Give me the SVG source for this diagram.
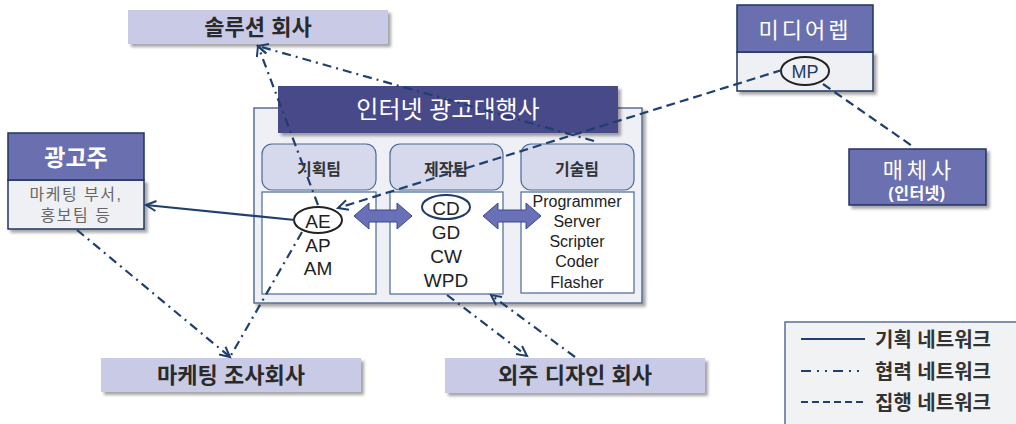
<svg xmlns="http://www.w3.org/2000/svg" width="1016" height="424" viewBox="0 0 1016 424">
<defs>
<filter id="sh" x="-10%" y="-10%" width="130%" height="140%">
<feDropShadow dx="3" dy="3" stdDeviation="1.5" flood-color="#000" flood-opacity="0.35"/>
</filter>
<marker id="arr" markerUnits="userSpaceOnUse" markerWidth="14" markerHeight="14" refX="11" refY="6" orient="auto">
<path d="M1,1 L11,6 L1,11" fill="none" stroke="#1f3f6e" stroke-width="2"/>
</marker>
</defs>
<style>
text{font-family:"Liberation Sans","Noto Sans CJK KR",sans-serif;text-anchor:middle}
.lav{fill:#c8cae6;filter:url(#sh)}
.lavt{font-size:22px;fill:#2a2a2a;font-weight:bold}
.hdr{fill:#6a6fb0;stroke:#1f3560;stroke-width:1.5}
.body{fill:#eef0f4;stroke:#1f3560;stroke-width:1.5}
.wt{fill:#fff}
.team{fill:#d6d8ec;stroke:#4a6a94;stroke-width:1.2}
.cont{fill:#fff;stroke:#4a6a94;stroke-width:1.2}
.tt{font-size:16px;fill:#333;font-weight:bold}
.big{font-size:19px;fill:#222}
.tech{font-size:16px;fill:#222}
.con{fill:none;stroke:#1f3f6e;stroke-width:2.2}
.dd{stroke-dasharray:9 5 2 5}
.da{stroke-dasharray:9 5}
.leg{font-size:20px;fill:#333;text-anchor:start;font-weight:bold}
.dbl{fill:#6a70b8;stroke:#3a4a8a;stroke-width:1}
</style>

<g id="solution">
<rect class="lav" x="128" y="10" width="260" height="34"/>
<text class="lavt" x="258" y="35">솔루션 회사</text>
</g>

<g id="agency">
<rect x="254" y="108" width="388" height="195" fill="#eef0f6" stroke="#5a6e94" stroke-width="1.5" filter="url(#sh)"/>
<rect x="278" y="86" width="340" height="47" fill="#464a88" filter="url(#sh)"/>
<text x="448" y="118" font-size="24" class="wt">인터넷 광고대행사</text>
</g>

<g id="team-plan">
<rect class="team" x="262" y="144" width="114" height="46" rx="10"/>
<text class="tt" x="319" y="175">기획팀</text>
<rect class="cont" x="262" y="192" width="114" height="102"/>
<ellipse cx="318" cy="220" rx="24" ry="13" fill="#fff" stroke="#222" stroke-width="2"/>
<text class="big" x="318" y="228">AE</text>
<text class="big" x="318" y="252">AP</text>
<text class="big" x="318" y="275">AM</text>
</g>

<g id="team-prod">
<rect class="team" x="390" y="144" width="113" height="46" rx="10"/>
<text class="tt" x="446" y="175">제작팀</text>
<rect class="cont" x="390" y="192" width="113" height="102"/>
<ellipse cx="446" cy="207" rx="24" ry="12" fill="#fff" stroke="#1f3b66" stroke-width="2"/>
<text class="big" x="446" y="215">CD</text>
<text class="big" x="446" y="239">GD</text>
<text class="big" x="446" y="263">CW</text>
<text class="big" x="446" y="287">WPD</text>
</g>

<g id="team-tech">
<rect class="team" x="521" y="144" width="113" height="46" rx="10"/>
<text class="tt" x="577" y="175">기술팀</text>
<rect class="cont" x="521" y="192" width="113" height="101"/>
<text class="tech" x="577" y="207">Programmer</text>
<text class="tech" x="577" y="227">Server</text>
<text class="tech" x="577" y="247">Scripter</text>
<text class="tech" x="577" y="267">Coder</text>
<text class="tech" x="577" y="288">Flasher</text>
</g>

<g id="double-arrows">
<path class="dbl" d="M354,216 L369,203 L369,210 L397,210 L397,203 L412,216 L397,229 L397,222 L369,222 L369,229 Z"/>
<path class="dbl" d="M483,216 L498,203 L498,210 L526,210 L526,203 L541,216 L526,229 L526,222 L498,222 L498,229 Z"/>
</g>

<g id="advertiser">
<rect class="body" x="8" y="180" width="136" height="49" filter="url(#sh)"/>
<rect class="hdr" x="8" y="133" width="136" height="47"/>
<text x="76" y="166" font-size="23" font-weight="bold" class="wt">광고주</text>
<text x="76" y="200" font-size="16" fill="#666" letter-spacing="1.5">마케팅 부서,</text>
<text x="76" y="221" font-size="16" fill="#666" letter-spacing="1.5">홍보팀 등</text>
</g>

<g id="mediarep">
<rect class="body" x="737" y="52" width="136" height="39" filter="url(#sh)"/>
<rect class="hdr" x="737" y="5" width="136" height="47"/>
<text x="805" y="38" font-size="22" class="wt" letter-spacing="3">미디어렙</text>
<ellipse cx="805" cy="71" rx="24" ry="14" fill="none" stroke="#222" stroke-width="2"/>
<text x="805" y="78" font-size="18" fill="#1f3b66">MP</text>
</g>

<g id="media">
<rect class="hdr" x="849" y="149" width="137" height="56" filter="url(#sh)"/>
<text x="919" y="178" font-size="22" class="wt" letter-spacing="4">매체사</text>
<text x="917" y="199" font-size="16" font-weight="bold" class="wt" letter-spacing="0.5">(인터넷)</text>
</g>

<g id="research">
<rect class="lav" x="101" y="358" width="260" height="34"/>
<text class="lavt" x="231" y="383">마케팅 조사회사</text>
</g>

<g id="design">
<rect class="lav" x="445" y="358" width="260" height="35"/>
<text class="lavt" x="575" y="383">외주 디자인 회사</text>
</g>

<g id="connectors">
<path class="con" d="M295,220 L146,205" marker-end="url(#arr)"/>
<path class="con dd" d="M318,205 L258,46" marker-end="url(#arr)"/>
<path class="con dd" d="M594,141 L258,46" marker-end="url(#arr)"/>
<path class="con dd" d="M77,230 L230,357" marker-end="url(#arr)"/>
<path class="con dd" d="M302,232 L230,357"/>
<path class="con dd" d="M447,295 L527,356" marker-end="url(#arr)"/>
<path class="con dd" d="M575,357 L491,295" marker-end="url(#arr)"/>
<path class="con da" d="M782,70 L338,208" marker-end="url(#arr)"/>
<path class="con da" d="M823,84 L915,148"/>
</g>

<g id="legend">
<rect x="785" y="322" width="240" height="110" fill="#f0f2f4" stroke="#5a6e94" stroke-width="1.5"/>
<line class="con" x1="801" y1="339" x2="865" y2="339"/>
<line class="con" x1="801" y1="371" x2="865" y2="371" stroke-dasharray="10 6 2 6 2 6"/>
<line class="con" x1="801" y1="402" x2="865" y2="402" stroke-dasharray="7 4"/>
<text class="leg" x="875" y="347">기획 네트워크</text>
<text class="leg" x="875" y="379">협력 네트워크</text>
<text class="leg" x="875" y="410">집행 네트워크</text>
</g>
</svg>
